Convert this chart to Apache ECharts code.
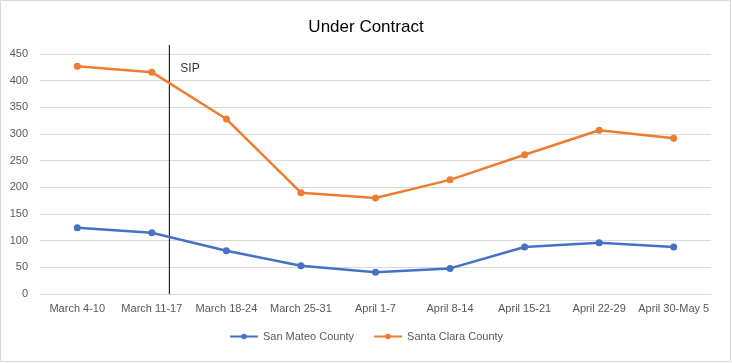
<!DOCTYPE html>
<html><head><meta charset="utf-8">
<script src="https://cdn.jsdelivr.net/npm/echarts@6/dist/echarts.min.js"></script>
<style>html,body{margin:0;padding:0;background:#fff}#c{width:732px;height:363px}</style>
</head><body><div id="c"></div>
<script>
const categories = ["March 4-10","March 11-17","March 18-24","March 25-31","April 1-7","April 8-14","April 15-21","April 22-29","April 30-May 5"];
const sanMateo = [124,115,81,53,41,48,88,96,88];
const santaClara = [427,416,328,190,180,214,261,307,292];
const yTicks = {min:0, max:450, interval:50};
const sipPosition = 1.235; // fractional category index of SIP marker
const sipTop = 467;

const chart = echarts.init(document.getElementById('c'));
const font = 'Liberation Sans, Arial, sans-serif';
chart.setOption({
  animation:false,
  title:{text:'Under Contract', left:'center', top:14, textStyle:{fontFamily:font, fontSize:17, fontWeight:'normal', color:'#000'}},
  legend:{bottom:16, left:'center', itemWidth:28, itemHeight:7, itemGap:19,
    textStyle:{fontFamily:font, fontSize:11, color:'#595959'},
    data:['San Mateo County','Santa Clara County']},
  grid:{left:40, right:21, top:54, bottom:69},
  xAxis:[{type:'category', data:categories, boundaryGap:true,
    axisLine:{lineStyle:{color:'#d9d9d9'}}, axisTick:{show:false},
    axisLabel:{fontFamily:font, fontSize:11, color:'#595959', interval:0, margin:9}},
    {type:'value', min:-0.5, max:8.5, show:false}],
  yAxis:{type:'value', min:yTicks.min, max:yTicks.max, interval:yTicks.interval,
    axisLine:{show:false}, axisTick:{show:false},
    splitLine:{lineStyle:{color:'#d9d9d9'}},
    axisLabel:{fontFamily:font, fontSize:11, color:'#595959', margin:12}},
  graphic:[{type:'rect', shape:{x:0.5,y:0.5,width:730,height:361}, style:{fill:'none', stroke:'#d9d9d9', lineWidth:1}, silent:true}],
  series:[
    {name:'San Mateo County', type:'line', data:sanMateo, color:'#4472C4', symbol:'circle', symbolSize:7, lineStyle:{width:2.5}},
    {name:'Santa Clara County', type:'line', data:santaClara, color:'#ED7D31', symbol:'circle', symbolSize:7, lineStyle:{width:2.5}},
    {name:'SIP', type:'line', xAxisIndex:1, data:[[sipPosition,0],[sipPosition,sipTop]], symbol:'none', clip:false,
      lineStyle:{color:'#000', width:1}, z:1, silent:true},
    {name:'SIPlabel', type:'scatter', xAxisIndex:1, data:[[sipPosition,422]], symbolSize:0, silent:true,
      label:{show:true, position:'right', distance:11, formatter:'SIP', fontFamily:font, fontSize:12, color:'#000'}}
  ]
});
</script></body></html>
